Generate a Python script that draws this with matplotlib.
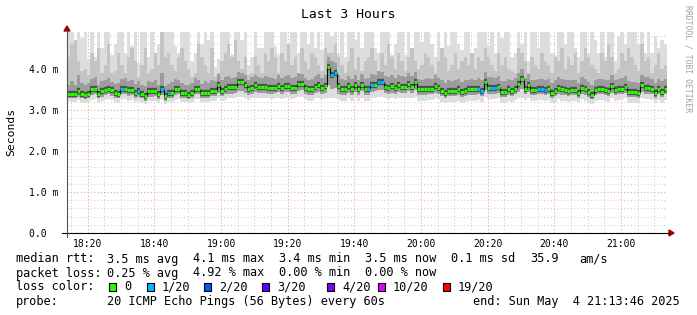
import numpy as np
import matplotlib
matplotlib.use("Agg")
import matplotlib.pyplot as plt
from matplotlib.patches import Rectangle, Polygon
from matplotlib.lines import Line2D

# median rtt per 60s step (ms), 18:13:46 -> 21:13:46
median = [3.40, 3.40, 3.38, 3.45, 3.38, 3.37, 3.38, 3.50, 3.50, 3.38, 3.45, 3.48, 3.50, 3.48, 3.42, 3.38, 3.50, 3.50, 3.48, 3.48, 3.42, 3.45, 3.40, 3.33, 3.45, 3.45, 3.45, 3.38, 3.52, 3.33,
          3.41, 3.41, 3.50, 3.50, 3.41, 3.41, 3.37, 3.41, 3.50, 3.50, 3.41, 3.41, 3.41, 3.45, 3.45, 3.62, 3.47, 3.50, 3.55, 3.55, 3.55, 3.68, 3.68, 3.60, 3.50, 3.54, 3.60, 3.56, 3.56, 3.56,
          3.54, 3.54, 3.54, 3.58, 3.54, 3.58, 3.58, 3.54, 3.54, 3.64, 3.64, 3.54, 3.50, 3.50, 3.56, 3.62, 3.54, 3.58, 4.05, 3.84, 3.90, 3.58, 3.50, 3.50, 3.58, 3.50, 3.60, 3.50, 3.62, 3.50,
          3.50, 3.62, 3.62, 3.68, 3.68, 3.56, 3.54, 3.58, 3.54, 3.60, 3.56, 3.56, 3.64, 3.56, 3.67, 3.50, 3.50, 3.50, 3.52, 3.52, 3.58, 3.54, 3.47, 3.41, 3.47, 3.46, 3.46, 3.50, 3.44, 3.47,
          3.50, 3.50, 3.50, 3.51, 3.46, 3.68, 3.54, 3.54, 3.54, 3.55, 3.44, 3.44, 3.50, 3.46, 3.51, 3.63, 3.75, 3.51, 3.62, 3.48, 3.48, 3.51, 3.51, 3.48, 3.51, 3.41, 3.46, 3.54, 3.50, 3.48,
          3.46, 3.48, 3.48, 3.41, 3.54, 3.50, 3.43, 3.37, 3.48, 3.50, 3.50, 3.48, 3.46, 3.58, 3.48, 3.50, 3.52, 3.56, 3.43, 3.43, 3.43, 3.41, 3.60, 3.54, 3.54, 3.50, 3.41, 3.50, 3.44, 3.50]

# steps with 1/20 packets lost
loss_steps = [16, 21, 28, 30, 79, 80, 90, 91, 93, 94, 123, 124, 127, 128, 141, 142, 143]

# smoke: top of light gray (max ping)
smoke_max = [4.92, 4.92, 4.45, 4.92, 4.75, 4.92, 4.25, 4.92, 4.30, 4.92, 4.50, 4.92, 4.92, 4.35, 4.60, 4.92, 4.92, 4.40, 4.92, 4.55, 4.92, 4.15, 4.92, 4.92, 4.30, 4.92, 4.20, 4.60, 4.92, 4.92,
             4.92, 4.92, 4.55, 4.40, 4.92, 4.92, 4.92, 4.20, 4.40, 4.92, 4.60, 4.92, 4.70, 4.92, 4.05, 4.25, 4.92, 4.92, 4.92, 4.35, 4.92, 4.92, 4.70, 4.92, 4.10, 4.30, 4.92, 4.50, 4.50, 4.92,
             4.92, 4.92, 4.55, 4.35, 4.92, 4.92, 4.20, 4.92, 4.92, 4.40, 4.92, 4.92, 4.60, 4.92, 4.50, 4.92, 4.45, 4.92, 4.92, 4.80, 4.92, 4.40, 4.92, 4.30, 4.92, 4.92, 4.70, 4.92, 4.50, 4.92,
             4.92, 4.92, 4.50, 4.40, 4.92, 4.92, 4.92, 4.35, 4.60, 4.92, 4.92, 4.35, 4.92, 4.45, 4.92, 4.92, 4.65, 4.92, 4.92, 4.60, 4.30, 4.92, 4.30, 4.92, 4.55, 4.92, 4.92, 4.60, 4.45, 4.92,
             4.92, 4.30, 4.50, 4.92, 4.92, 4.92, 4.55, 4.92, 4.40, 4.92, 4.75, 4.92, 4.92, 4.30, 4.40, 4.92, 4.60, 4.92, 4.20, 4.92, 4.92, 4.50, 4.92, 4.92, 4.92, 4.40, 4.35, 4.92, 4.92, 4.60,
             4.92, 4.92, 4.50, 4.30, 4.92, 4.92, 4.40, 4.92, 4.70, 4.40, 4.92, 4.30, 4.92, 4.92, 4.20, 4.80, 4.92, 4.60, 4.92, 4.92, 4.92, 4.60, 4.92, 4.40, 4.92, 4.40, 4.80, 4.50, 4.70, 4.60]

# smoke: top of mid gray
smoke_mid = [4.30, 4.60, 4.70, 4.20, 3.95, 4.00, 3.85, 4.40, 4.20, 4.50, 3.90, 4.10, 4.60, 3.90, 3.95, 4.40, 4.10, 3.90, 4.30, 4.50, 4.20, 3.80, 4.10, 4.50, 3.90, 4.00, 4.40, 4.10, 4.92, 4.30,
             4.40, 4.10, 3.95, 4.30, 4.50, 4.20, 4.00, 3.80, 3.90, 4.60, 4.30, 4.10, 3.90, 4.50, 3.80, 3.90, 4.20, 4.40, 4.60, 4.30, 4.70, 4.20, 4.00, 4.30, 3.85, 3.90, 4.30, 4.10, 3.90, 4.40,
             4.20, 4.50, 4.30, 3.90, 4.40, 4.20, 4.60, 4.10, 4.30, 3.90, 4.50, 4.20, 4.00, 4.40, 4.30, 4.10, 3.95, 4.50, 4.40, 4.40, 4.60, 4.30, 4.10, 3.90, 4.20, 4.50, 4.00, 4.30, 3.95, 4.20,
             4.30, 4.50, 4.20, 3.95, 4.40, 4.10, 4.60, 4.30, 4.00, 4.40, 4.20, 3.95, 4.30, 4.50, 4.20, 4.00, 4.10, 4.40, 4.30, 4.10, 3.90, 4.20, 4.50, 4.30, 3.95, 4.10, 4.40, 4.00, 4.20, 4.30,
             4.10, 4.40, 4.00, 4.30, 4.20, 4.50, 4.30, 4.10, 3.95, 4.40, 4.10, 4.30, 4.00, 3.95, 3.90, 4.50, 4.40, 4.20, 3.90, 4.30, 4.10, 4.00, 4.40, 4.20, 4.10, 3.90, 4.30, 4.20, 4.50, 4.00,
             4.30, 4.10, 4.40, 3.90, 4.20, 4.50, 4.30, 4.10, 4.00, 3.90, 4.40, 4.20, 4.60, 4.30, 3.90, 4.00, 4.40, 4.20, 4.50, 4.30, 4.10, 3.95, 4.60, 4.20, 4.30, 3.90, 4.10, 4.40, 4.00, 4.10]

# smoke: top of dark gray
smoke_dark = [3.62, 3.70, 3.60, 3.85, 3.65, 3.60, 3.65, 3.75, 3.80, 3.60, 3.70, 3.72, 3.78, 3.68, 3.64, 3.66, 3.75, 3.78, 3.70, 3.72, 3.64, 3.70, 3.62, 3.58, 3.70, 3.68, 3.72, 3.62, 3.90, 3.58,
              3.64, 3.68, 3.76, 3.74, 3.66, 3.62, 3.60, 3.66, 3.78, 3.72, 3.64, 3.70, 3.66, 3.72, 3.70, 3.88, 3.74, 3.80, 3.82, 3.78, 3.80, 3.92, 3.90, 3.84, 3.74, 3.80, 3.86, 3.80, 3.78, 3.82,
              3.80, 3.78, 3.76, 3.84, 3.78, 3.82, 3.86, 3.78, 3.80, 3.90, 3.88, 3.78, 3.74, 3.76, 3.82, 3.88, 3.78, 3.84, 4.30, 4.20, 4.15, 3.86, 3.76, 3.74, 3.82, 3.76, 3.86, 3.74, 3.88, 3.76,
              3.78, 3.88, 3.86, 3.94, 3.92, 3.82, 3.80, 3.84, 3.78, 3.86, 3.82, 3.80, 3.90, 3.82, 3.92, 3.76, 3.74, 3.76, 3.78, 3.76, 3.84, 3.78, 3.72, 3.66, 3.72, 3.70, 3.72, 3.76, 3.68, 3.72,
              3.74, 3.76, 3.74, 3.78, 3.72, 3.92, 3.80, 3.80, 3.78, 3.82, 3.70, 3.70, 3.76, 3.72, 3.78, 3.90, 4.00, 3.78, 3.88, 3.72, 3.74, 3.76, 3.76, 3.72, 3.76, 3.66, 3.72, 3.80, 3.76, 3.72,
              3.72, 3.74, 3.72, 3.66, 3.80, 3.76, 3.68, 3.62, 3.74, 3.76, 3.76, 3.72, 3.72, 3.84, 3.74, 3.76, 3.78, 3.82, 3.70, 3.68, 3.68, 3.66, 3.86, 3.80, 3.80, 3.76, 3.66, 3.76, 3.70, 3.76]

# smoke: bottom of mid/dark gray
smoke_low = [3.30, 3.30, 3.28, 3.32, 3.28, 3.26, 3.28, 3.36, 3.38, 3.28, 3.32, 3.36, 3.38, 3.34, 3.30, 3.28, 3.38, 3.38, 3.34, 3.36, 3.30, 3.32, 3.28, 3.22, 3.32, 3.32, 3.34, 3.26, 3.36, 3.22,
             3.30, 3.30, 3.36, 3.38, 3.30, 3.30, 3.26, 3.30, 3.38, 3.38, 3.30, 3.30, 3.30, 3.34, 3.34, 3.42, 3.34, 3.38, 3.40, 3.40, 3.42, 3.46, 3.46, 3.42, 3.36, 3.40, 3.44, 3.42, 3.42, 3.42,
             3.40, 3.40, 3.42, 3.44, 3.40, 3.44, 3.44, 3.40, 3.40, 3.46, 3.48, 3.40, 3.36, 3.36, 3.42, 3.44, 3.40, 3.42, 3.60, 3.50, 3.54, 3.40, 3.36, 3.36, 3.42, 3.36, 3.44, 3.36, 3.46, 3.36,
             3.36, 3.44, 3.46, 3.48, 3.48, 3.42, 3.40, 3.42, 3.40, 3.44, 3.42, 3.42, 3.46, 3.42, 3.48, 3.36, 3.36, 3.36, 3.38, 3.38, 3.42, 3.40, 3.34, 3.30, 3.34, 3.34, 3.34, 3.36, 3.32, 3.34,
             3.36, 3.36, 3.36, 3.38, 3.34, 3.48, 3.40, 3.40, 3.40, 3.42, 3.32, 3.32, 3.36, 3.34, 3.38, 3.44, 3.52, 3.38, 3.44, 3.36, 3.36, 3.38, 3.38, 3.36, 3.38, 3.30, 3.34, 3.40, 3.36, 3.36,
             3.34, 3.36, 3.36, 3.30, 3.40, 3.36, 3.32, 3.26, 3.36, 3.38, 3.38, 3.36, 3.34, 3.42, 3.36, 3.38, 3.40, 3.42, 3.32, 3.32, 3.32, 3.30, 3.44, 3.40, 3.40, 3.38, 3.30, 3.38, 3.32, 3.38]

# smoke: bottom of light gray (min ping)
smoke_min = [3.22, 3.20, 3.20, 3.24, 3.18, 3.18, 3.20, 3.24, 3.26, 3.18, 3.22, 3.24, 3.26, 3.24, 3.20, 3.18, 3.26, 3.26, 3.22, 3.24, 3.20, 3.22, 3.18, 3.14, 3.22, 3.22, 3.22, 3.16, 3.24, 3.14,
             3.20, 3.20, 3.24, 3.26, 3.20, 3.20, 3.16, 3.20, 3.26, 3.26, 3.20, 3.20, 3.20, 3.22, 3.22, 3.28, 3.22, 3.24, 3.28, 3.28, 3.30, 3.32, 3.32, 3.28, 3.24, 3.28, 3.30, 3.28, 3.28, 3.28,
             3.28, 3.26, 3.28, 3.30, 3.26, 3.30, 3.30, 3.26, 3.28, 3.32, 3.32, 3.26, 3.22, 3.22, 3.28, 3.30, 3.26, 3.28, 3.30, 3.30, 3.30, 3.26, 3.22, 3.22, 3.28, 3.22, 3.30, 3.22, 3.30, 3.22,
             3.22, 3.30, 3.30, 3.32, 3.32, 3.28, 3.26, 3.28, 3.26, 3.30, 3.28, 3.28, 3.30, 3.28, 3.32, 3.22, 3.22, 3.22, 3.24, 3.24, 3.28, 3.26, 3.20, 3.16, 3.20, 3.20, 3.20, 3.22, 3.18, 3.20,
             3.22, 3.22, 3.22, 3.24, 3.20, 3.32, 3.26, 3.26, 3.26, 3.28, 3.18, 3.18, 3.22, 3.20, 3.24, 3.28, 3.30, 3.24, 3.28, 3.22, 3.22, 3.24, 3.24, 3.22, 3.24, 3.16, 3.20, 3.26, 3.22, 3.22,
             3.20, 3.22, 3.22, 3.16, 3.26, 3.22, 3.18, 3.14, 3.22, 3.24, 3.24, 3.22, 3.20, 3.28, 3.22, 3.24, 3.26, 3.28, 3.18, 3.18, 3.18, 3.16, 3.30, 3.26, 3.26, 3.24, 3.16, 3.24, 3.18, 3.24]

# x ticks: minutes after 18:13:46
tick_minutes = [6.233, 26.233, 46.233, 66.233, 86.233, 106.233, 126.233, 146.233, 166.233]
tick_labels = ["18:20", "18:40", "19:00", "19:20", "19:40", "20:00", "20:20", "20:40", "21:00"]
y_ticks = [0, 1, 2, 3, 4]
y_labels = ["0.0  ", "1.0 m", "2.0 m", "3.0 m", "4.0 m"]

loss_names = ["0", "1/20", "2/20", "3/20", "4/20", "10/20", "19/20"]
loss_colors = ["#26ff00", "#00b8ff", "#0059ff", "#5e00ff", "#7e00ff", "#dd00ff", "#ff0000"]

W, H = 697, 315
MONO = "DejaVu Sans Mono"


def fx(px):
    return px / W


def fy(py):
    return 1 - py / H


def step_xy(vals):
    n = len(vals)
    return np.arange(n + 1), np.append(vals, vals[-1])


fig = plt.figure(figsize=(W / 100, H / 100), dpi=100)
ax = fig.add_axes([fx(67), fy(233), 600 / W, 201 / H])
ax.set_xlim(0, 180)
ax.set_ylim(0, 4.9)

# grid: 5 min / 0.2 ms minor, 20 min / 1 ms major
ax.set_xticks(tick_minutes)
ax.set_xticks(np.arange(1.233, 180, 5), minor=True)
ax.set_yticks(y_ticks)
ax.set_yticks(np.arange(0, 4.9, 0.2), minor=True)
ax.grid(which="minor", color="#d0d0d0", linestyle=(0, (1, 2)), lw=0.8)
ax.grid(which="major", color="#eaa0a0", linestyle=(0, (1, 2)), lw=0.8)
ax.set_axisbelow(True)

# smoke
x, _ = step_xy(median)
_, top = step_xy(smoke_max)
_, bot = step_xy(smoke_min)
ax.fill_between(x, bot, top, step="post", color="#dddddd", lw=0, zorder=2)
_, top = step_xy(smoke_mid)
_, bot = step_xy(smoke_low)
ax.fill_between(x, bot, top, step="post", color="#c4c4c4", lw=0, zorder=3)
_, top = step_xy(smoke_dark)
ax.fill_between(x, bot, top, step="post", color="#9c9c9c", lw=0, zorder=4)

# median
x0 = np.arange(len(median))
ax.hlines(median, x0, x0 + 1, colors="#505050", lw=4.5, zorder=5)
xs, ys = step_xy(median)
ax.step(xs, ys, where="post", color="black", lw=0.8, zorder=6)
seg_colors = [loss_colors[1] if i in loss_steps else loss_colors[0] for i in range(len(median))]
ax.hlines(median, x0, x0 + 1, colors=seg_colors, lw=2.2, zorder=7)

for s in ax.spines.values():
    s.set_visible(False)
ax.tick_params(which="both", length=0)
ax.set_xticklabels(tick_labels, family=MONO, fontsize=7)
ax.set_yticklabels(y_labels, family=MONO, fontsize=7)
ax.tick_params(axis="x", pad=4)
ax.tick_params(axis="y", pad=6.5)

# axis lines and arrows
fig.add_artist(Line2D([fx(62), fx(669)], [fy(233), fy(233)], color="black", lw=0.8))
fig.add_artist(Line2D([fx(67), fx(67)], [fy(237), fy(31)], color="#555555", lw=0.8))
fig.add_artist(Polygon([[fx(669), fy(230)], [fx(669), fy(236)], [fx(674), fy(233)]], color="#990000"))
fig.add_artist(Polygon([[fx(64), fy(31)], [fx(70), fy(31)], [fx(67), fy(26)]], color="#990000"))

# titles
fig.text(fx(348), fy(14), "Last 3 Hours", family=MONO, fontsize=9.4, ha="center", va="center")
fig.text(fx(11), fy(132), "Seconds", family=MONO, fontsize=8.2, rotation=90, ha="center", va="center")
fig.text(fx(688), fy(5), "RRDTOOL / TOBI OETIKER", family=MONO, fontsize=5.8, rotation=270,
         ha="center", va="top", color="#a0a0a0")

# legend rows
rows = [
    (259, [(16, "median rtt:"), (107, "3.5 ms avg"), (193, "4.1 ms max"), (279, "3.4 ms min"),
           (365, "3.5 ms now"), (451, "0.1 ms sd"), (530, "35.9"), (579, "am/s")]),
    (273, [(16, "packet loss:"), (107, "0.25 % avg"), (193, "4.92 % max"), (279, "0.00 % min"),
           (365, "0.00 % now")]),
    (287, [(16, "loss color:")]),
    (301, [(16, "probe:"), (107, "20 ICMP Echo Pings (56 Bytes) every 60s")]),
]
for yy, parts in rows:
    for xx, s in parts:
        fig.text(fx(xx), fy(yy), s, family=MONO, fontsize=8.55, ha="left", va="center")
fig.text(fx(680), fy(301), "end: Sun May  4 21:13:46 2025", family=MONO, fontsize=8.55,
         ha="right", va="center")

box_x = [109, 147, 204, 262, 327, 378, 443]
for bx, name, col in zip(box_x, loss_names, loss_colors):
    fig.add_artist(Rectangle((fx(bx), fy(291)), 7 / W, 8 / H, facecolor=col, edgecolor="black", lw=0.8))
    fig.text(fx(bx + 15), fy(287), name, family=MONO, fontsize=8.55, ha="left", va="center")

fig.savefig("out.png", dpi=100, facecolor="white")
